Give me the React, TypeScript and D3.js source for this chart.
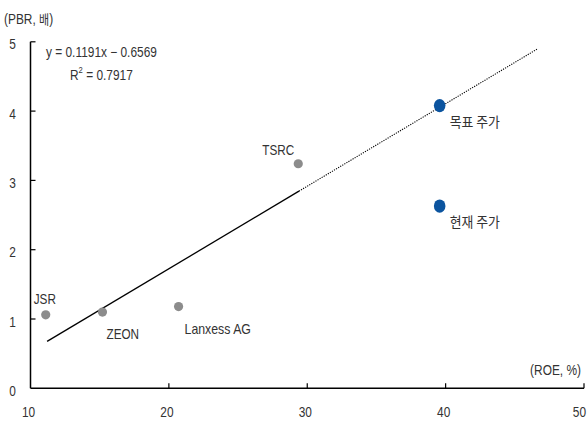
import { useRef, useEffect } from 'react';
import * as d3 from 'd3';

const peerNames = ['JSR', 'ZEON', 'Lanxess AG', 'TSRC'];
const peerRoe = [11.1, 15.2, 20.7, 29.35];
const peerPbr = [1.06, 1.1, 1.18, 3.24];

const targetNames = ['목표 주가', '현재 주가'];
const targetRoe = [39.57, 39.57];
const targetPbr = [4.08, 2.63];

const slope = 0.1191;
const intercept = -0.6569;
const rSquared = 0.7917;
const solidRange = [11.2, 29.4];
const dottedRange = [29.4, 46.6];

const xTicks = [10, 20, 30, 40, 50];
const yTicks = [0, 1, 2, 3, 4, 5];

const FONT = '"Liberation Sans", Arial, "Noto Sans CJK KR", sans-serif';
const KR_FONT = '"Noto Sans CJK KR", sans-serif';

export default function App() {
  const svgRef = useRef<SVGSVGElement>(null);

  useEffect(() => {
    if (!svgRef.current) return;
    const svg = d3.select(svgRef.current);
    svg.selectAll('*').remove();

    const width = 588;
    const height = 425;

    const x = d3.scaleLinear().domain([10, 50]).range([30.5, 584]);
    const y = d3.scaleLinear().domain([0, 5]).range([388.3, 41.8]);

    svg.attr('width', width).attr('height', height);
    const g = svg.append('g').attr('font-family', FONT).attr('fill', '#333');

    // condensed text helper
    const label = (
      tx: number,
      ty: number,
      txt: string,
      anchor = 'start',
      size = 14,
      sx = 0.85,
      family = FONT
    ) => {
      const t = g
        .append('text')
        .attr('transform', `translate(${tx},${ty}) scale(${sx},1)`)
        .attr('text-anchor', anchor)
        .attr('font-size', size)
        .attr('font-family', family)
        .text(txt);
      return t;
    };

    // regression line
    const fit = (v: number) => slope * v + intercept;
    g.append('line')
      .attr('x1', x(solidRange[0])).attr('y1', y(fit(solidRange[0])))
      .attr('x2', x(solidRange[1])).attr('y2', y(fit(solidRange[1])))
      .attr('stroke', '#000').attr('stroke-width', 1.3);
    g.append('line')
      .attr('x1', x(dottedRange[0])).attr('y1', y(fit(dottedRange[0])))
      .attr('x2', x(dottedRange[1])).attr('y2', y(fit(dottedRange[1])))
      .attr('stroke', '#000').attr('stroke-width', 1.1)
      .attr('stroke-dasharray', '1.2,1.2');

    // axes
    g.append('line')
      .attr('x1', x(10)).attr('x2', x(50))
      .attr('y1', y(0)).attr('y2', y(0))
      .attr('stroke', '#000').attr('stroke-width', 1.5);
    g.append('line')
      .attr('x1', x(10)).attr('x2', x(10))
      .attr('y1', y(0)).attr('y2', y(5))
      .attr('stroke', '#000').attr('stroke-width', 1.5);

    g.selectAll('.xtick')
      .data(xTicks.slice(1))
      .join('line')
      .attr('x1', (d) => x(d)).attr('x2', (d) => x(d))
      .attr('y1', y(0)).attr('y2', y(0) - 5)
      .attr('stroke', '#000').attr('stroke-width', 1.2);
    g.selectAll('.ytick')
      .data(yTicks.slice(1))
      .join('line')
      .attr('x1', x(10)).attr('x2', x(10) + 5)
      .attr('y1', (d) => y(d)).attr('y2', (d) => y(d))
      .attr('stroke', '#000').attr('stroke-width', 1.2);

    xTicks.forEach((d) => {
      if (d === 50) label(586, y(0) + 29, String(d), 'end');
      else label(x(d) - 2, y(0) + 29, String(d), 'middle');
    });
    yTicks.forEach((d) => label(16, y(d) + 7.5, String(d), 'end'));

    const pbr = label(4, 24, '(PBR, ', 'start', 14, 0.85);
    pbr.append('tspan').attr('font-family', KR_FONT).attr('font-size', 13).text('배');
    pbr.append('tspan').text(')');
    label(581, 375, '(ROE, %)', 'end');

    // equation
    label(46, 57, `y = ${slope}x − ${Math.abs(intercept)}`, 'start', 14, 0.85);
    const r2 = label(70, 80, 'R', 'start', 14, 0.85);
    r2.append('tspan').attr('font-size', 9).attr('dy', -7).text('2');
    r2.append('tspan').attr('dy', 7).text(` = ${rSquared}`);

    // peer points
    const peerOffsets = [[-12, -11], [4, 27], [6, 27], [-36, -9]];
    peerNames.forEach((name, i) => {
      g.append('circle')
        .attr('cx', x(peerRoe[i])).attr('cy', y(peerPbr[i]))
        .attr('r', 4.6).attr('fill', '#8c8c8c');
      label(
        x(peerRoe[i]) + peerOffsets[i][0],
        y(peerPbr[i]) + peerOffsets[i][1],
        name,
        'start',
        14,
        i === 2 ? 0.88 : 0.84
      );
    });

    targetNames.forEach((name, i) => {
      g.append('ellipse')
        .attr('cx', x(targetRoe[i])).attr('cy', y(targetPbr[i]))
        .attr('rx', 5.8).attr('ry', 6.6).attr('fill', '#0b549f');
      label(
        x(targetRoe[i]) + 10,
        y(targetPbr[i]) + 21,
        name,
        'start',
        14,
        0.92,
        KR_FONT
      );
    });
  }, []);

  return (
    <svg
      ref={svgRef}
      style={{ position: 'absolute', left: 0, top: 0, background: '#fff' }}
    />
  );
}
